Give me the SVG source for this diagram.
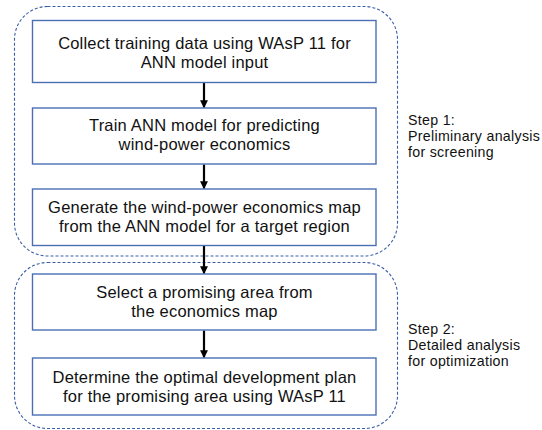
<svg xmlns="http://www.w3.org/2000/svg" width="542" height="430" viewBox="0 0 542 430">
<style>
.grp{fill:none;stroke:#3b5fa6;stroke-width:1.1;stroke-dasharray:3 2}
.box{fill:#fff;stroke:#4a6fb5;stroke-width:1.4}
.t{font-family:"Liberation Sans",Arial,sans-serif;font-size:16.5px;letter-spacing:0.2px;fill:#111;text-anchor:middle}
.s{font-family:"Liberation Sans",Arial,sans-serif;font-size:14.2px;letter-spacing:0.3px;fill:#111}
.c{stroke:#000;stroke-width:2.2;fill:none}
</style>
<defs>
<marker id="ah" viewBox="0 0 10 10" refX="9" refY="5" markerWidth="3.6" markerHeight="3.6" orient="auto" markerUnits="strokeWidth">
<path d="M0,0 L10,5 L0,10 z" fill="#000"/>
</marker>
</defs>
<g id="step1-group">
<rect class="grp" x="14.5" y="6.5" width="383" height="249.5" rx="33" ry="33"/>
<text class="s" x="408" y="125">Step 1:</text>
<text class="s" x="408" y="141">Preliminary analysis</text>
<text class="s" x="408" y="157">for screening</text>
</g>
<g id="step2-group">
<rect class="grp" x="14.5" y="262.5" width="383" height="166" rx="33" ry="33"/>
<text class="s" x="408" y="334">Step 2:</text>
<text class="s" x="408" y="350">Detailed analysis</text>
<text class="s" x="408" y="366">for optimization</text>
</g>
<g id="connectors">
<line class="c" x1="204" y1="82.5" x2="204" y2="107.5" marker-end="url(#ah)"/>
<line class="c" x1="204" y1="164.5" x2="204" y2="188.5" marker-end="url(#ah)"/>
<line class="c" x1="204" y1="245.5" x2="204" y2="273.5" marker-end="url(#ah)"/>
<line class="c" x1="204" y1="330.5" x2="204" y2="357.5" marker-end="url(#ah)"/>
</g>
<g id="node1">
<rect class="box" x="32.5" y="20.5" width="343.5" height="62"/>
<text class="t" x="204.5" y="48.5">Collect training data using WAsP 11 for</text>
<text class="t" x="204.5" y="67.5">ANN model input</text>
</g>
<g id="node2">
<rect class="box" x="32.5" y="108" width="343.5" height="56"/>
<text class="t" x="204.5" y="130.5">Train ANN model for predicting</text>
<text class="t" x="204.5" y="149.5">wind-power economics</text>
</g>
<g id="node3">
<rect class="box" x="32.5" y="189" width="343.5" height="56.5"/>
<text class="t" x="204.5" y="213">Generate the wind-power economics map</text>
<text class="t" x="204.5" y="232">from the ANN model for a target region</text>
</g>
<g id="node4">
<rect class="box" x="32.5" y="274" width="343.5" height="56"/>
<text class="t" x="204.5" y="298">Select a promising area from</text>
<text class="t" x="204.5" y="317">the economics map</text>
</g>
<g id="node5">
<rect class="box" x="32.5" y="358" width="343.5" height="57"/>
<text class="t" x="204.5" y="383">Determine the optimal development plan</text>
<text class="t" x="204.5" y="402">for the promising area using WAsP 11</text>
</g>
</svg>
